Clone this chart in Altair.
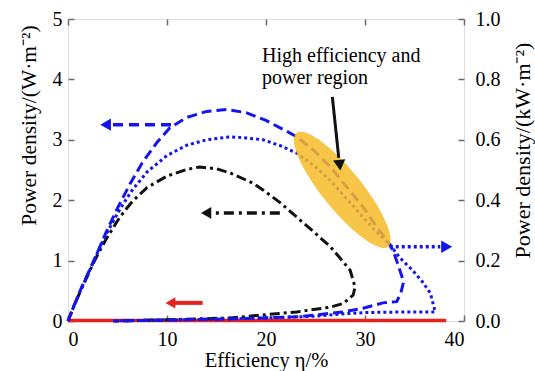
import altair as alt
import pandas as pd

FONT = "Liberation Serif"

# ---- curves (efficiency %, power density W/m^2) ----
dash_x = [0, 0.6, 1.3, 2.0, 2.6, 3.2, 3.8, 4.4, 5, 5.6, 6.3, 7.5, 9, 10.3, 12, 14, 16, 18, 20, 22, 23.1, 25, 26.5, 28, 29.8, 31, 32.2,
          32.8, 33.3, 33.9, 33.6, 33.2, 31.8, 29.8, 27.8, 25, 23.1, 19.7, 15, 10, 4.6]
dash_y = [0, 0.25, 0.53, 0.78, 1.0, 1.22, 1.45, 1.66, 1.87, 2.06, 2.28, 2.62, 2.96, 3.2, 3.37, 3.47, 3.5, 3.45, 3.32, 3.15, 3.05, 2.8, 2.55, 2.25, 1.89, 1.6, 1.34,
          1.18, 0.95, 0.65, 0.45, 0.32, 0.3, 0.21, 0.15, 0.1, 0.07, 0.05, 0.03, 0.015, 0]

dot_x = [0, 0.6, 1.3, 2.0, 2.6, 3.2, 3.8, 4.4, 5, 5.7, 6.5, 8, 10, 12, 14, 16.4, 18, 19.7, 21.5, 23.1, 25, 26.5, 28, 29.8, 31, 32.5,
         33.5, 34.8, 35.8, 36.6, 37.1, 34, 30, 28, 25, 20, 15, 10, 4.6]
dot_y = [0, 0.25, 0.52, 0.77, 0.99, 1.21, 1.42, 1.6, 1.78, 1.97, 2.17, 2.47, 2.74, 2.91, 3.0, 3.05, 3.03, 3.0, 2.9, 2.78, 2.55, 2.33, 2.05, 1.72, 1.5, 1.27,
         1.05, 0.84, 0.65, 0.46, 0.15, 0.15, 0.14, 0.12, 0.08, 0.05, 0.03, 0.02, 0]

dd_x = [0, 0.6, 1.3, 2.0, 2.6, 3.2, 3.8, 4.4, 5, 5.7, 6.5, 8, 10, 12, 13.3, 15, 16.4, 18.7, 19.7, 21.5, 23.1, 25, 26.5, 27.7, 28.5,
        29, 28.8, 27.8, 26.5, 23.1, 19.7, 16.4, 10, 5]
dd_y = [0, 0.25, 0.51, 0.76, 0.97, 1.16, 1.34, 1.5, 1.66, 1.82, 1.98, 2.21, 2.4, 2.51, 2.55, 2.52, 2.45, 2.28, 2.17, 1.95, 1.72, 1.45, 1.23, 1.0, 0.84,
        0.56, 0.43, 0.29, 0.23, 0.15, 0.1, 0.05, 0.02, 0]

red_x = [0, 38.2]
red_y = [0.01, 0.01]

# ---- annotation arrows ----
bda_x = [10.4, 4.2]; bda_y = [3.25, 3.25]; bda_head = (3.8, 3.25)        # blue dashed, pointing left
bdo_x = [32.5, 37.6]; bdo_y = [1.23, 1.23]; bdo_head = (38.25, 1.23)     # blue dotted, pointing right
kda_x = [21.4, 14.6]; kda_y = [1.79, 1.79]; kda_head = (13.95, 1.79)     # black dash-dot, pointing left
ra_x = [13.6, 10.6]; ra_y = [0.3, 0.3]; ra_head = (10.35, 0.3)           # red, pointing left
ka_x = [26.7, 27.35]; ka_y = [3.71, 2.7]; ka_head = (27.45, 2.58)        # black solid, pointing down

# highlight ellipse
ell_x = [27.7]; ell_y = [2.17]

ann_x = [19.6]; ann_y = [4.29]
ann_text = ["High efficiency and", "power region"]

BLUE = "#1414EE"
BLACK = "#111111"
RED = "#E8201E"
GOLD = "#F6BB27"
GRAY = "#6a6a6a"

xs = alt.Scale(domain=[0, 40], nice=False, zero=False)
ysL = alt.Scale(domain=[0, 5], nice=False, zero=False)
ysR = alt.Scale(domain=[0, 1], nice=False, zero=False)


def df(xv, yv):
    return pd.DataFrame({"x": xv, "y": yv, "i": list(range(len(xv)))})


def enc(c):
    return c.encode(
        x=alt.X("x:Q", scale=xs, axis=None),
        y=alt.Y("y:Q", scale=ysL, axis=None),
        order="i:O",
    )


def line(xv, yv, color, width, dash=None, cap="butt"):
    kw = dict(color=color, strokeWidth=width, strokeCap=cap, clip=False)
    if dash is not None:
        kw["strokeDash"] = dash
    return enc(alt.Chart(df(xv, yv)).mark_line(**kw))


def head(pt, shape, color, size, angle=0):
    kw = dict(shape=shape, filled=True, color=color, size=size, opacity=1, strokeWidth=0)
    if angle:
        kw["angle"] = angle
    return enc(alt.Chart(df([pt[0]], [pt[1]])).mark_point(**kw))


tick_common = dict(
    domain=False, grid=False, tickSize=6, offset=-6, tickColor=GRAY, tickWidth=1.5,
    labelFont=FONT, labelFontSize=20, labelColor="black",
)
title_common = dict(titleFont=FONT, titleFontWeight="normal", titleColor="black")

base = alt.Chart(pd.DataFrame({"x": [0, 40], "y": [0, 5]})).mark_point(opacity=0).encode(
    x=alt.X("x:Q", scale=xs, axis=alt.Axis(
        orient="bottom", values=[0, 10, 20, 30, 40], labelPadding=8,
        title="Efficiency η/%", titleFontSize=20.5, titlePadding=1, **tick_common, **title_common)),
    y=alt.Y("y:Q", scale=ysL, axis=alt.Axis(
        orient="left", values=[0, 1, 2, 3, 4, 5], labelPadding=6,
        title="Power density/(W·m⁻²)", titleFontSize=21.5, titleX=-45, titleY=106, titleAngle=270,
        titleAlign="center", titleBaseline="middle", **tick_common, **title_common)),
)

right = alt.Chart(pd.DataFrame({"x": [0, 40], "y": [0, 1]})).mark_point(opacity=0).encode(
    x=alt.X("x:Q", scale=xs, axis=alt.Axis(
        orient="top", values=[0, 10, 20, 30, 40], labels=False, title=None, **tick_common)),
    y=alt.Y("y:Q", scale=ysR, axis=alt.Axis(
        orient="right", values=[0, 0.2, 0.4, 0.6, 0.8, 1.0], format=".1f", labelPadding=11,
        title="Power density/(kW·m⁻²)", titleFontSize=22, titleX=64, titleY=131, titleAngle=270,
        titleAlign="center", titleBaseline="middle", **tick_common, **title_common)),
)

layers = [
    base,
    right,
    line(red_x, red_y, RED, 3.5),
    line(dd_x, dd_y, BLACK, 3, [10, 4, 3, 4]),
    line(dot_x, dot_y, BLUE, 3, [3, 3]),
    line(dash_x, dash_y, BLUE, 3, [10, 5]),
    enc(alt.Chart(df(ell_x, ell_y)).mark_point(
        shape="M -1 0 A 1 0.27 0 1 0 1 0 A 1 0.27 0 1 0 -1 0 Z", filled=True, color=GOLD,
        opacity=0.85, size=21300, angle=51, strokeWidth=0)),
    line(bda_x, bda_y, BLUE, 3.5, [10, 6]),
    head(bda_head, "triangle-left", BLUE, 150),
    line(bdo_x, bdo_y, BLUE, 3.5, [3, 3]),
    head(bdo_head, "triangle-right", BLUE, 160),
    line(kda_x, kda_y, BLACK, 3.5, [10, 5, 3, 5]),
    head(kda_head, "triangle-left", BLACK, 140),
    line(ra_x, ra_y, RED, 4),
    head(ra_head, "triangle-left", RED, 130),
    line(ka_x, ka_y, BLACK, 3),
    head(ka_head, "triangle-down", BLACK, 150, angle=354),
    enc(alt.Chart(df(ann_x, ann_y)).mark_text(
        text=ann_text, align="left", baseline="alphabetic", font=FONT, fontSize=20,
        lineHeight=22, color="black")),
]

chart = alt.layer(*layers).resolve_scale(x="independent", y="independent").properties(
    width=396, height=302,
    padding={"left": 68, "top": 19, "right": 71, "bottom": 50},
    autosize=alt.AutoSizeParams(type="none"),
).configure_view(stroke=GRAY, strokeWidth=1.5).configure_axis(
    labelFont=FONT, titleFont=FONT
).configure_text(font=FONT).configure(background="white", font=FONT)

chart.save("out.html", embed_options={"renderer": "svg", "actions": False})
